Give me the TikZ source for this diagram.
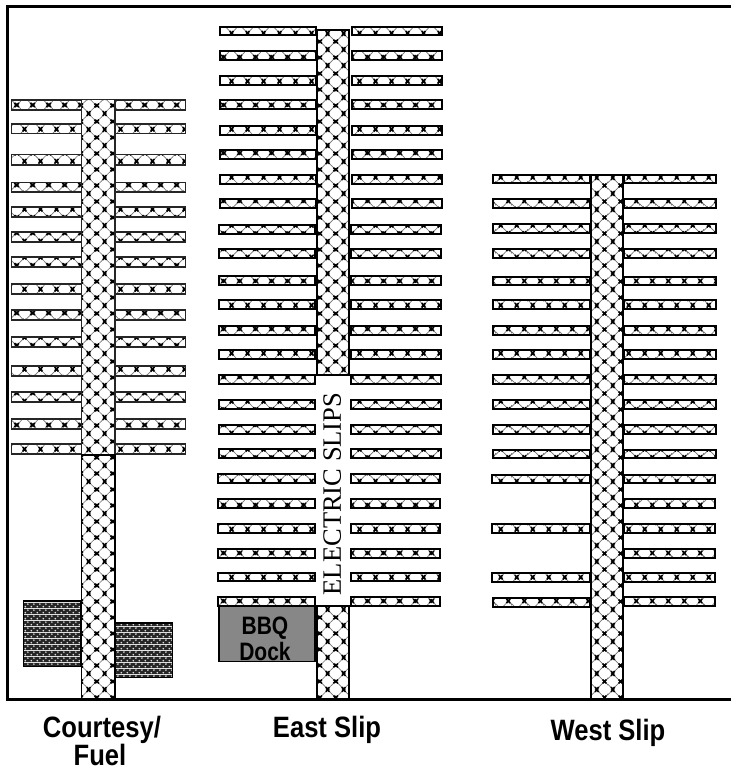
\documentclass[tikz,border=0pt]{standalone}
\usepackage{fontspec}
\setmainfont{Liberation Sans}
\newfontfamily\timesfont{Liberation Serif}
\usetikzlibrary{patterns}
\newcommand{\xmk}[2]{%
  \pgfpathmoveto{\pgfqpoint{\dimexpr#1pt-2pt\relax}{\dimexpr#2pt-2pt\relax}}\pgfpathlineto{\pgfqpoint{\dimexpr#1pt+2pt\relax}{\dimexpr#2pt+2pt\relax}}%
  \pgfpathmoveto{\pgfqpoint{\dimexpr#1pt-2pt\relax}{\dimexpr#2pt+2pt\relax}}\pgfpathlineto{\pgfqpoint{\dimexpr#1pt+2pt\relax}{\dimexpr#2pt-2pt\relax}}%
}
% lattice tile: #1 pattern name, #2 #3 offset of the X lattice inside the 16pt tile
\newcommand{\mkmarina}[3]{%
\pgfdeclarepatterninherentlycolored{#1}{\pgfqpoint{0pt}{0pt}}{\pgfqpoint{16pt}{16pt}}{\pgfqpoint{16pt}{16pt}}{%
  \pgfsetfillcolor{white}\pgfpathrectangle{\pgfqpoint{0pt}{0pt}}{\pgfqpoint{16pt}{16pt}}\pgfusepath{fill}%
  \pgftransformshift{\pgfqpoint{#2pt}{#3pt}}%
  \pgfsetstrokecolor{black!55}\pgfsetlinewidth{0.7pt}%
  \pgfpathmoveto{\pgfqpoint{-16pt}{-16pt}}\pgfpathlineto{\pgfqpoint{32pt}{32pt}}%
  \pgfpathmoveto{\pgfqpoint{-32pt}{-16pt}}\pgfpathlineto{\pgfqpoint{16pt}{32pt}}%
  \pgfpathmoveto{\pgfqpoint{-16pt}{-32pt}}\pgfpathlineto{\pgfqpoint{32pt}{16pt}}%
  \pgfpathmoveto{\pgfqpoint{-16pt}{24pt}}\pgfpathlineto{\pgfqpoint{24pt}{-16pt}}%
  \pgfpathmoveto{\pgfqpoint{-16pt}{8pt}}\pgfpathlineto{\pgfqpoint{8pt}{-16pt}}%
  \pgfpathmoveto{\pgfqpoint{-8pt}{32pt}}\pgfpathlineto{\pgfqpoint{32pt}{-8pt}}%
  \pgfusepath{stroke}%
  \pgfsetstrokecolor{black}\pgfsetlinewidth{1.7pt}%
  \xmk{-12}{-12}\xmk{4}{-12}\xmk{20}{-12}\xmk{-4}{-4}\xmk{12}{-4}\xmk{-12}{4}\xmk{4}{4}\xmk{20}{4}\xmk{-4}{12}\xmk{12}{12}\xmk{-12}{20}\xmk{4}{20}\xmk{20}{20}%
  \pgfusepath{stroke}%
}}
\mkmarina{marinaA}{5}{-3}
\mkmarina{marinaB}{4}{-3}
\mkmarina{marinaC}{1}{-3}
\pgfdeclarepatterninherentlycolored{dense}{\pgfqpoint{0pt}{0pt}}{\pgfqpoint{6pt}{6pt}}{\pgfqpoint{6pt}{6pt}}{%
  \pgfsetfillcolor{black!85}\pgfpathrectangle{\pgfqpoint{0pt}{0pt}}{\pgfqpoint{6pt}{6pt}}\pgfusepath{fill}%
  \pgfsetfillcolor{white!85!black}%
  \pgfpathcircle{\pgfqpoint{1.5pt}{1.5pt}}{1.05pt}\pgfpathcircle{\pgfqpoint{4.5pt}{4.5pt}}{1.05pt}\pgfusepath{fill}%
}
\tikzset{
  slip/.style={draw=black,line width=2pt},
  thinslip/.style={draw=black!85,line width=1.5pt,pattern=marinaA},
  walkway/.style={draw=black,line width=2pt},
  building/.style={draw=black,line width=1.5pt,pattern=dense},
  title/.style={font=\bfseries\fontsize{25.6}{28}\selectfont,inner sep=0pt,anchor=base},
  docklabel/.style={font=\bfseries\fontsize{21}{24}\selectfont,inner sep=0pt,anchor=base},
}
\newcommand{\stretched}[2][1.15]{\scalebox{1}[#1]{#2}}
\begin{document}
\begin{tikzpicture}[x=1pt,y=-1pt]
\useasboundingbox (0,0) rectangle (731,770);
\fill[white] (0,0) rectangle (731,770);

% Courtesy / Fuel buildings
\draw[building] (23.7,601) rectangle (81,666.5);
\draw[building] (115,623) rectangle (172.3,677.5);

% Courtesy / Fuel slips
\foreach \ya/\yb in {100/110,124/133.5,154.5/165,182.5/192,207/217,232/242,257/267,284/294,310/320,337/347,366/376,392/402,419/429,444/454}{
  \draw[thinslip] (11.7,\ya+0.2) rectangle (81.7,\yb-0.2);
  \draw[thinslip] (115,\ya+0.2) rectangle (185.3,\yb-0.2);
}
\draw[walkway,line width=1.5pt,draw=black!85,pattern=marinaA] (81.7,99.7) rectangle (115,455);
\draw[walkway,line width=1.5pt,pattern=marinaA] (81.7,455) rectangle (115,699);

% East slips
\foreach \ya/\yb in {26.5/35.5,51/60,76/85,100/109,126/135,150/159,175/184,199/208}{
  \draw[slip,pattern=marinaB] (220.3,\ya+0.4) rectangle (316,\yb-0.4);
  \draw[slip,pattern=marinaB] (352,\ya+0.4) rectangle (441.5,\yb-0.4);
}
\foreach \ya/\yb in {225/234,249/258,276/285,300/309,326/335,350/359,375/384,400/409,425/434,449/458}{
  \draw[slip,pattern=marinaB] (219.3,\ya+0.4) rectangle (315,\yb-0.4);
  \draw[slip,pattern=marinaB] (351,\ya+0.4) rectangle (440.5,\yb-0.4);
}
\foreach \ya/\yb in {474/483,499/508,524/533,549/558,572.5/581.5,597/606}{
  \draw[slip,pattern=marinaB] (218.3,\ya+0.4) rectangle (314.5,\yb-0.4);
  \draw[slip,pattern=marinaB] (350.5,\ya+0.4) rectangle (440,\yb-0.4);
}
\draw[walkway,pattern=marinaB] (317,30) rectangle (348.5,375);
\draw[walkway,pattern=marinaB] (317,606) rectangle (348.5,699);
\node[font=\timesfont\fontsize{26.5}{28}\selectfont,rotate=90,inner sep=0pt,text depth=0pt] (electric) at (332,494) {ELECTRIC SLIPS};

% BBQ dock
\draw[draw=black,line width=1.8pt,fill=black!47] (218.9,606) rectangle (314.6,661.5);
\node[docklabel] (bbq) at (265,634) {\scalebox{1}[1.2]{BBQ}};
\node[docklabel] (dock) at (265,660) {\scalebox{1}[1.2]{Dock}};

% West slips
\foreach \ya/\yb in {174.5/183,199/208,224/233,249/258,276.5/285.5,300/309,326/335,350/359,375/384,400/409,425/434,449.5/458.5}{
  \draw[slip,pattern=marinaC] (493.2,\ya+0.4) rectangle (590,\yb-0.4);
  \draw[slip,pattern=marinaC] (624,\ya+0.4) rectangle (715.5,\yb-0.4);
}
\foreach \ya/\yb in {474.5/483,524/533,573/582}{
  \draw[slip,pattern=marinaC] (492.2,\ya+0.4) rectangle (590,\yb-0.4);
}
\draw[slip,pattern=marinaC] (493.2,597.5) rectangle (590,606.5);
\foreach \ya/\yb in {474.5/483,499/508,524/533,549/558,573/582,597/606}{
  \draw[slip,pattern=marinaC] (624,\ya+0.4) rectangle (714.5,\yb-0.4);
}
\draw[walkway,pattern=marinaC] (591,175) rectangle (623.3,699);

% Frame: open on the right, running to the picture's edge
\draw[black,line width=3pt] (731,699) -- (7,699) -- (7,7) -- (731,7);

% Titles
\node[title] (courtesy) at (102,737) {\stretched{Courtesy/}};
\node[title] (fuel) at (100,765) {\stretched{Fuel}};
\node[title] (east) at (327,737) {\stretched{East Slip}};
\node[title] (west) at (608,740) {\stretched{West Slip}};
\end{tikzpicture}
\end{document}
